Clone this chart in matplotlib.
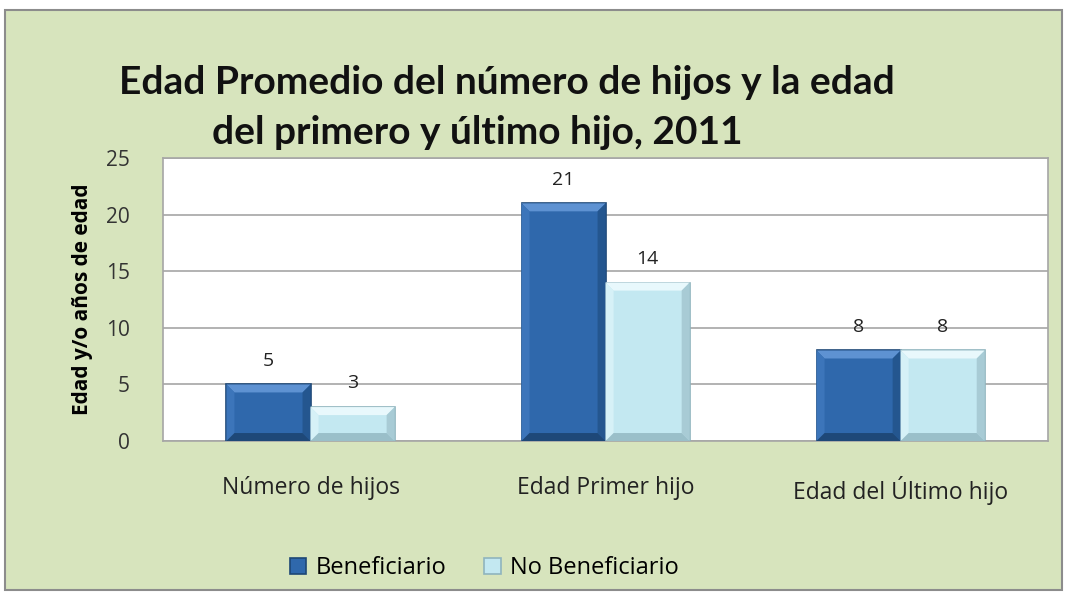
import matplotlib.pyplot as plt
import matplotlib.patches as mpatches
import numpy as np

# Datos del gráfico
categorias = ['Número de hijos', 'Edad Primer hijo', 'Edad del Último hijo']
beneficiario = [5, 21, 8]
no_beneficiario = [3, 14, 8]
series = ['Beneficiario', 'No Beneficiario']

plt.rcParams['font.family'] = ['Open Sans', 'DejaVu Sans']

fig = plt.figure(figsize=(10.69, 5.92), dpi=100)
fig.patch.set_facecolor('white')
# Marco del área del gráfico
fondo = mpatches.Rectangle((5 / 1069, 0.004), 1057 / 1069, 1 - 10 / 592 - 0.004,
                           transform=fig.transFigure, facecolor='#D7E4BD',
                           edgecolor='#8C8C8C', linewidth=1.5, zorder=-5)
fig.patches.append(fondo)

ax = fig.add_axes([0.1525, 0.255, 0.828, 0.478])
ax.set_facecolor('white')
ax.set_xlim(-0.5, 2.5)
ax.set_ylim(0, 25)

x = np.arange(len(categorias))
ancho = 0.285
b1 = ax.bar(x - ancho / 2, beneficiario, ancho, color='#2F68AC',
            edgecolor='#1D4775', linewidth=1.2, label=series[0], zorder=3)
b2 = ax.bar(x + ancho / 2, no_beneficiario, ancho, color='#C3E8F1',
            edgecolor='#8FB4BE', linewidth=1.2, label=series[1], zorder=3)

# Efecto biselado (tamaño en píxeles convertido a unidades de datos)
bx = 8 * 3.0 / 885
by = 8 * 25.0 / 283
biseles = {
    'b1': ('#5E92D2', '#3C75BA', '#24568F', '#1E4878'),
    'b2': ('#E8F8FC', '#D6F1F7', '#A8CBD5', '#9ABFC9'),
}
for barras, clave in ((b1, 'b1'), (b2, 'b2')):
    c_top, c_left, c_right, c_bot = biseles[clave]
    for r in barras:
        x0, x1 = r.get_x(), r.get_x() + r.get_width()
        y0, y1 = 0, r.get_height()
        ax.fill([x0, x1, x1 - bx, x0 + bx], [y1, y1, y1 - by, y1 - by], color=c_top, lw=0, zorder=4)
        ax.fill([x0, x0 + bx, x0 + bx, x0], [y0, y0 + by, y1 - by, y1], color=c_left, lw=0, zorder=4)
        ax.fill([x1, x1 - bx, x1 - bx, x1], [y0, y0 + by, y1 - by, y1], color=c_right, lw=0, zorder=4)
        ax.fill([x0, x1, x1 - bx, x0 + bx], [y0, y0, y0 + by, y0 + by], color=c_bot, lw=0, zorder=4)

# Etiquetas de datos
for barras, vals in ((b1, beneficiario), (b2, no_beneficiario)):
    for r, v in zip(barras, vals):
        ax.text(r.get_x() + r.get_width() / 2, v + 1.3, str(v), ha='center',
                va='bottom', fontsize=14, color='#222222')

ax.set_yticks([0, 5, 10, 15, 20, 25])
ax.yaxis.grid(True, color='#A6A6A6', linewidth=1.2, zorder=0)
ax.set_axisbelow(True)
for s in ax.spines.values():
    s.set_color('#A6A6A6')
    s.set_linewidth(1.2)
ax.tick_params(axis='y', length=0, pad=24, labelsize=15, labelcolor='#333333')
ax.tick_params(axis='x', length=0, pad=25, labelsize=16.5, labelcolor='#222222')
ax.set_xticks(x)
ax.set_xticklabels(categorias)

ax.set_ylabel('Edad y/o años de edad', fontsize=15, fontweight='bold', labelpad=9)

fig.text(0.474, 1 - 82 / 592, 'Edad Promedio del número de hijos y la edad',
         ha='center', va='center', fontsize=28, fontweight='bold',
         family=['Lato', 'DejaVu Sans'], color='#111111')
fig.text(0.446, 1 - 132 / 592, 'del primero y último hijo, 2011',
         ha='center', va='center', fontsize=28, fontweight='bold',
         family=['Lato', 'DejaVu Sans'], color='#111111')

ax.legend(loc='center', bbox_to_anchor=(0.363, -0.45), ncol=2, frameon=False,
          fontsize=17, handlelength=0.7, handleheight=0.7, columnspacing=1.6,
          handletextpad=0.4)

fig.savefig('out.png', dpi=100, facecolor=fig.get_facecolor())
